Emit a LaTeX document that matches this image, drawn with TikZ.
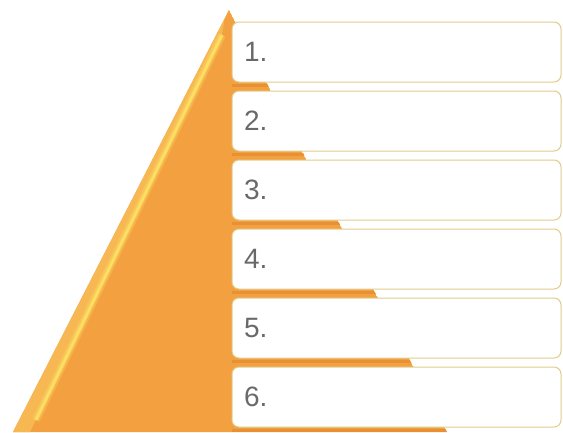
\documentclass[tikz,border=0pt]{standalone}
\usepackage{fontspec}
\setmainfont{Liberation Sans}
\definecolor{tri}{RGB}{242,160,64}
\definecolor{trilight}{RGB}{247,184,84}
\definecolor{hilite}{RGB}{252,224,100}
\definecolor{tridark}{RGB}{232,144,52}
\definecolor{boxline}{RGB}{226,204,140}
\definecolor{numgray}{RGB}{105,105,105}
\tikzset{
  itembox/.style={draw=boxline, line width=1pt, fill=white, rounded corners=7pt,
    minimum width=329pt, minimum height=60pt, inner xsep=12pt, inner ysep=0pt,
    text width=305pt, align=left, font=\fontsize{28}{28}\selectfont, text=numgray}
}
\begin{document}
\begin{tikzpicture}[x=1pt,y=-1pt]
\fill[white] (0,0) rectangle (563,432);
\useasboundingbox (0,0) rectangle (563,432);
% pyramid
\coordinate (apex) at (229,10);
\coordinate (bl) at (13,432);
\coordinate (br) at (447,432);
\begin{scope}
\clip (apex) -- (br) -- (bl) -- cycle;
\fill[tri] (apex) -- (br) -- (bl) -- cycle;
\fill[trilight] (apex) -- (bl) -- (30,432) -- (222,35) -- (226,10) -- cycle;
\draw[hilite, line width=8pt, opacity=0.3] (222,35) -- (36,420);
\draw[hilite, line width=4pt, opacity=0.6] (222,35) -- (36,420);
\draw[hilite, line width=2pt] (222,35) -- (36,420);
\foreach \yy in {84,153,222,291,360,429}
  \fill[tridark] (232,\yy) rectangle (563,\yy+2.5);
\end{scope}
% boxes
\node[itembox] (b1) at (396.5,52) {1.};
\node[itembox] (b2) at (396.5,121) {2.};
\node[itembox] (b3) at (396.5,190) {3.};
\node[itembox] (b4) at (396.5,259) {4.};
\node[itembox] (b5) at (396.5,328) {5.};
\node[itembox] (b6) at (396.5,397) {6.};
\end{tikzpicture}
\end{document}
